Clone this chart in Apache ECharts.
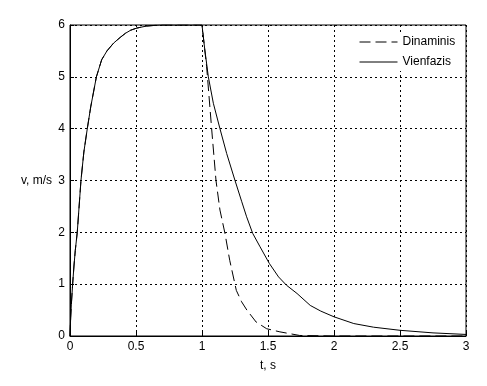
<!DOCTYPE html>
<html>
<head>
<meta charset="utf-8">
<script src="https://cdn.jsdelivr.net/npm/echarts@6/dist/echarts.min.js"></script>
<style>html,body{margin:0;padding:0;background:#fff;}#c{width:487px;height:386px;}</style>
</head>
<body>
<div id="c"></div>
<script>
// Shared acceleration phase (both series)
var tRise = [0, 0.005, 0.01, 0.02, 0.03, 0.04, 0.055, 0.083, 0.105, 0.131, 0.157, 0.2, 0.24, 0.28, 0.33, 0.38, 0.42, 0.46, 0.505, 0.58, 0.68, 0.8, 0.9, 1.0];
var vRise = [0, 0.35, 0.6, 1.0, 1.35, 1.65, 2.0, 3.0, 3.55, 4.0, 4.42, 5.0, 5.33, 5.5, 5.65, 5.76, 5.84, 5.9, 5.94, 5.98, 6.0, 6.0, 6.0, 6.0];
// Deceleration phase
var tDin = [1.035, 1.073, 1.106, 1.136, 1.174, 1.21, 1.26, 1.3, 1.34, 1.41, 1.49, 1.59, 1.74, 2.0, 2.5, 3.0];
var vDin = [5.2, 4.0, 3.0, 2.43, 1.98, 1.46, 0.88, 0.66, 0.5, 0.27, 0.14, 0.08, 0.01, 0.0, 0.0, 0.0];
var tVien = [1.02, 1.048, 1.086, 1.136, 1.187, 1.25, 1.3, 1.338, 1.384, 1.44, 1.51, 1.58, 1.64, 1.72, 1.82, 1.9, 2.0, 2.15, 2.3, 2.5, 2.75, 3.0];
var vVien = [5.55, 5.0, 4.49, 4.0, 3.52, 3.0, 2.6, 2.3, 1.98, 1.72, 1.4, 1.14, 0.98, 0.82, 0.59, 0.48, 0.37, 0.24, 0.17, 0.11, 0.06, 0.03];
var xTicks = [0, 0.5, 1, 1.5, 2, 2.5, 3];
var yTicks = [0, 1, 2, 3, 4, 5, 6];
var names = ['Dinaminis', 'Vienfazis'];

function pairs(t, v) { return t.map(function (x, i) { return [x, v[i]]; }); }
var dinData = pairs(tRise, vRise).concat(pairs(tDin, vDin));
var vienData = pairs(tRise, vRise).concat(pairs(tVien, vVien));

var font = 'Liberation Sans, Arial, sans-serif';
var chart = echarts.init(document.getElementById('c'), null, {renderer: 'canvas'});
chart.setOption({
  animation: false,
  backgroundColor: '#fff',
  grid: {left: 70, top: 25, right: 21, bottom: 50, show: true, borderColor: '#000', borderWidth: 1, containLabel: false},
  legend: {
    show: true,
    data: names,
    orient: 'vertical', left: 356, top: 33, itemWidth: 38, itemHeight: 10, itemGap: 8,
    itemStyle: {color: 'rgba(0,0,0,0)', borderWidth: 0, opacity: 0},
    lineStyle: {width: 1},
    textStyle: {fontFamily: font, fontSize: 12, color: '#000'},
    backgroundColor: '#fff', padding: [3, 6, 3, 3]
  },
  xAxis: {
    type: 'value', min: 0, max: 3, interval: 0.5,
    name: 't, s', nameLocation: 'middle', nameGap: 24,
    nameTextStyle: {fontFamily: font, fontSize: 12, color: '#000'},
    axisLine: {show: true, lineStyle: {color: '#000', width: 1}},
    axisTick: {show: true, inside: true, length: 4, lineStyle: {color: '#000'}},
    axisLabel: {fontFamily: font, fontSize: 12, color: '#000', margin: 5,
      formatter: function (v) { return xTicks.indexOf(v) >= 0 ? String(v) : ''; }},
    splitLine: {show: true, lineStyle: {color: '#000', type: [2, 3], width: 1}}
  },
  yAxis: {
    type: 'value', min: 0, max: 6, interval: 1,
    name: 'v, m/s', nameLocation: 'middle', nameGap: 18, nameRotate: 0,
    nameTextStyle: {fontFamily: font, fontSize: 12, color: '#000', align: 'right'},
    axisLine: {show: true, lineStyle: {color: '#000', width: 1}},
    axisTick: {show: true, inside: true, length: 4, lineStyle: {color: '#000'}},
    axisLabel: {fontFamily: font, fontSize: 12, color: '#000', margin: 5,
      formatter: function (v) { return yTicks.indexOf(v) >= 0 ? String(v) : ''; }},
    splitLine: {show: true, lineStyle: {color: '#000', type: [2, 3], width: 1}}
  },
  series: [
    {name: names[0], type: 'line', data: dinData, showSymbol: false, symbol: 'none', smooth: false,
      lineStyle: {color: '#000', width: 1, type: [11, 5]}, itemStyle: {color: '#000'}, z: 3},
    {name: names[1], type: 'line', data: vienData, showSymbol: false, symbol: 'none', smooth: false,
      lineStyle: {color: '#000', width: 1, type: 'solid'}, itemStyle: {color: '#000'}, z: 4}
  ]
});
</script>
</body>
</html>
